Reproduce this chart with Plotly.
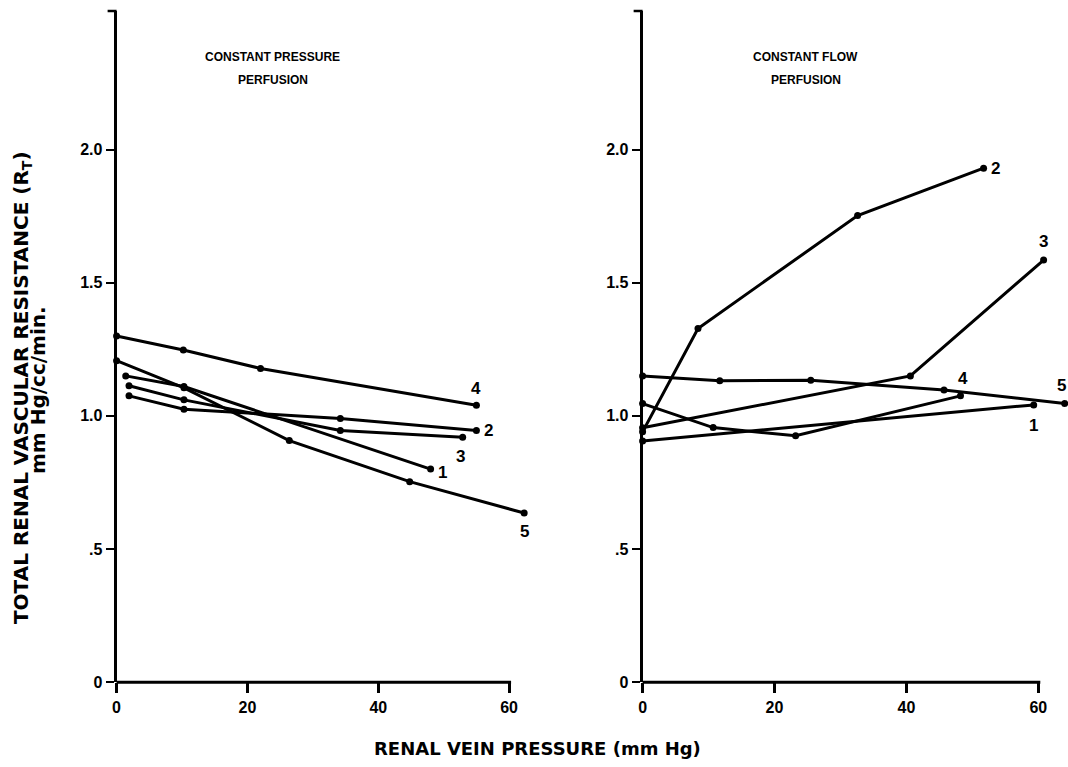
import plotly.graph_objects as go

# ---------------- DATA ----------------
# Left panel: constant pressure perfusion (x = renal vein pressure, y = R_T)
cp1_x = [1.4, 10.3, 48.0]
cp1_y = [1.15, 1.11, 0.80]
cp2_x = [1.9, 10.3, 34.2, 55.0]
cp2_y = [1.075, 1.025, 0.99, 0.945]
cp3_x = [1.9, 10.3, 34.2, 52.9]
cp3_y = [1.113, 1.06, 0.945, 0.92]
cp4_x = [0.0, 10.2, 22.0, 55.0]
cp4_y = [1.30, 1.247, 1.178, 1.04]
cp5_x = [0.0, 10.3, 26.4, 44.8, 62.3]
cp5_y = [1.207, 1.105, 0.907, 0.753, 0.635]

# Right panel: constant flow perfusion
cf1_x = [0.0, 59.3]
cf1_y = [0.906, 1.041]
cf2_x = [0.0, 8.4, 32.6, 51.7]
cf2_y = [0.94, 1.328, 1.752, 1.93]
cf3_x = [0.0, 40.6, 60.8]
cf3_y = [0.955, 1.15, 1.585]
cf4_x = [0.0, 10.7, 23.2, 48.2]
cf4_y = [1.046, 0.956, 0.925, 1.075]
cf5_x = [0.0, 11.7, 25.5, 45.7, 64.0]
cf5_y = [1.15, 1.132, 1.134, 1.097, 1.046]

series_labels = ["1", "2", "3", "4", "5"]
x_tick_vals = [0, 20, 40, 60]
y_tick_vals = [0, 0.5, 1.0, 1.5, 2.0]
y_tick_text = ["0", ".5", "1.0", "1.5", "2.0"]

left_title = ["CONSTANT PRESSURE", "PERFUSION"]
right_title = ["CONSTANT FLOW", "PERFUSION"]
y_title_1 = "TOTAL RENAL VASCULAR RESISTANCE (R<sub>T</sub>)"
y_title_2 = "mm Hg/cc/min."
x_title = "RENAL VEIN PRESSURE (mm Hg)"

# ---------------- LAYOUT ----------------
W, H = 1068, 767
K = 0.988  # vertical correction measured on the rendered page


def py(t):
    """paper y for a target pixel row t (from the top)."""
    return (H - t / K) / H


left_dom = [113 / W, 530 / W]
right_dom = [641 / W, 1.0]
y_dom = [py(682), py(11)]
left_range = [0, 63.5]
right_range = [0, 64.5]
y_range = [0, 2.52]
x_axis_end = 60.3

FONT = "Liberation Sans, Arial, sans-serif"
WIDE = "DejaVu Sans, Liberation Sans, sans-serif"

fig = go.Figure()

left = [(cp1_x, cp1_y), (cp2_x, cp2_y), (cp3_x, cp3_y), (cp4_x, cp4_y), (cp5_x, cp5_y)]
right = [(cf1_x, cf1_y), (cf2_x, cf2_y), (cf3_x, cf3_y), (cf4_x, cf4_y), (cf5_x, cf5_y)]

for (xs, ys) in left:
    fig.add_trace(go.Scatter(x=xs, y=ys, mode="lines+markers", xaxis="x", yaxis="y",
                             line=dict(color="black", width=3),
                             marker=dict(color="black", size=7),
                             cliponaxis=False, showlegend=False, hoverinfo="skip"))
for (xs, ys) in right:
    fig.add_trace(go.Scatter(x=xs, y=ys, mode="lines+markers", xaxis="x2", yaxis="y2",
                             line=dict(color="black", width=3),
                             marker=dict(color="black", size=7),
                             cliponaxis=False, showlegend=False, hoverinfo="skip"))

# series label offsets (pixels) relative to each series' last point
left_shift = {"1": (12, -3), "2": (12, 0), "3": (-2, -19), "4": (0, 17), "5": (0, -18)}
right_shift = {"1": (0, -21), "2": (12, 0), "3": (0, 19), "4": (3, 17), "5": (-3, 18)}

LBL = dict(family=FONT, size=17, color="black", weight="bold")
annotations = []
for lab, (xs, ys) in zip(series_labels, left):
    dx, dy = left_shift[lab]
    annotations.append(dict(x=xs[-1], y=ys[-1], xref="x", yref="y", text=lab, showarrow=False,
                            xanchor="center", yanchor="middle", xshift=dx, yshift=dy, font=LBL))
for lab, (xs, ys) in zip(series_labels, right):
    dx, dy = right_shift[lab]
    annotations.append(dict(x=xs[-1], y=ys[-1], xref="x2", yref="y2", text=lab, showarrow=False,
                            xanchor="center", yanchor="middle", xshift=dx, yshift=dy, font=LBL))

# panel titles
TTL = dict(family=FONT, size=12, color="black", weight="bold")
for cx, lines in [(270, left_title), (805, right_title)]:
    for i, line in enumerate(lines):
        annotations.append(dict(x=cx / W, y=py(57 + 23 * i), xref="paper", yref="paper",
                                text=line, showarrow=False, xanchor="center", yanchor="middle",
                                font=TTL))

# axis titles
annotations.append(dict(x=18 / W, y=py(387), xref="paper", yref="paper", text=y_title_1,
                        textangle=-90, showarrow=False, xanchor="center", yanchor="middle",
                        font=dict(family=WIDE, size=20, color="black", weight="bold")))
annotations.append(dict(x=34 / W, y=py(390), xref="paper", yref="paper", text=y_title_2,
                        textangle=-90, showarrow=False, xanchor="center", yanchor="middle",
                        font=dict(family=WIDE, size=20, color="black", weight="bold")))
annotations.append(dict(x=536 / W, y=py(748), xref="paper", yref="paper", text=x_title,
                        showarrow=False, xanchor="center", yanchor="middle",
                        font=dict(family=WIDE, size=18, color="black", weight="bold")))


def paper_x(v, dom, rng):
    return dom[0] + (v - rng[0]) / (rng[1] - rng[0]) * (dom[1] - dom[0])


shapes = []
for dom, rng in [(left_dom, left_range), (right_dom, right_range)]:
    x0 = paper_x(rng[0], dom, rng)
    # x axis line (ends at 60)
    shapes.append(dict(type="line", xref="paper", yref="paper",
                       x0=x0, x1=paper_x(x_axis_end, dom, rng),
                       y0=y_dom[0], y1=y_dom[0], line=dict(color="black", width=3)))
    # end cap at the top of the y axis
    shapes.append(dict(type="line", xref="paper", yref="paper",
                       x0=x0 - 9 / W, x1=x0, y0=y_dom[1], y1=y_dom[1],
                       line=dict(color="black", width=2.5)))

xaxis_common = dict(showgrid=False, zeroline=False, showline=False, ticks="outside",
                    ticklen=10, tickwidth=2.5, tickcolor="black", tickvals=x_tick_vals,
                    ticklabelstandoff=1,
                    tickfont=dict(family=FONT, size=16, color="black", weight="bold"),
                    fixedrange=True)
yaxis_common = dict(showgrid=False, zeroline=False, showline=True, linewidth=3, linecolor="black",
                    ticks="outside", ticklen=8, tickwidth=2, tickcolor="black",
                    tickvals=y_tick_vals, ticktext=y_tick_text,
                    tickfont=dict(family=FONT, size=16, color="black", weight="bold"),
                    range=y_range, domain=y_dom, fixedrange=True)

fig.update_layout(
    width=W, height=H, autosize=False,
    margin=dict(l=0, r=0, t=0, b=0),
    paper_bgcolor="white", plot_bgcolor="white",
    xaxis=dict(domain=left_dom, range=left_range, anchor="y", **xaxis_common),
    xaxis2=dict(domain=right_dom, range=right_range, anchor="y2", **xaxis_common),
    yaxis=dict(anchor="x", **yaxis_common),
    yaxis2=dict(anchor="x2", **yaxis_common),
    annotations=annotations,
    shapes=shapes,
)

fig.write_html("out.html",
               config={"displayModeBar": False},
               post_script="document.body.style.margin='0';document.body.style.overflow='hidden';")
